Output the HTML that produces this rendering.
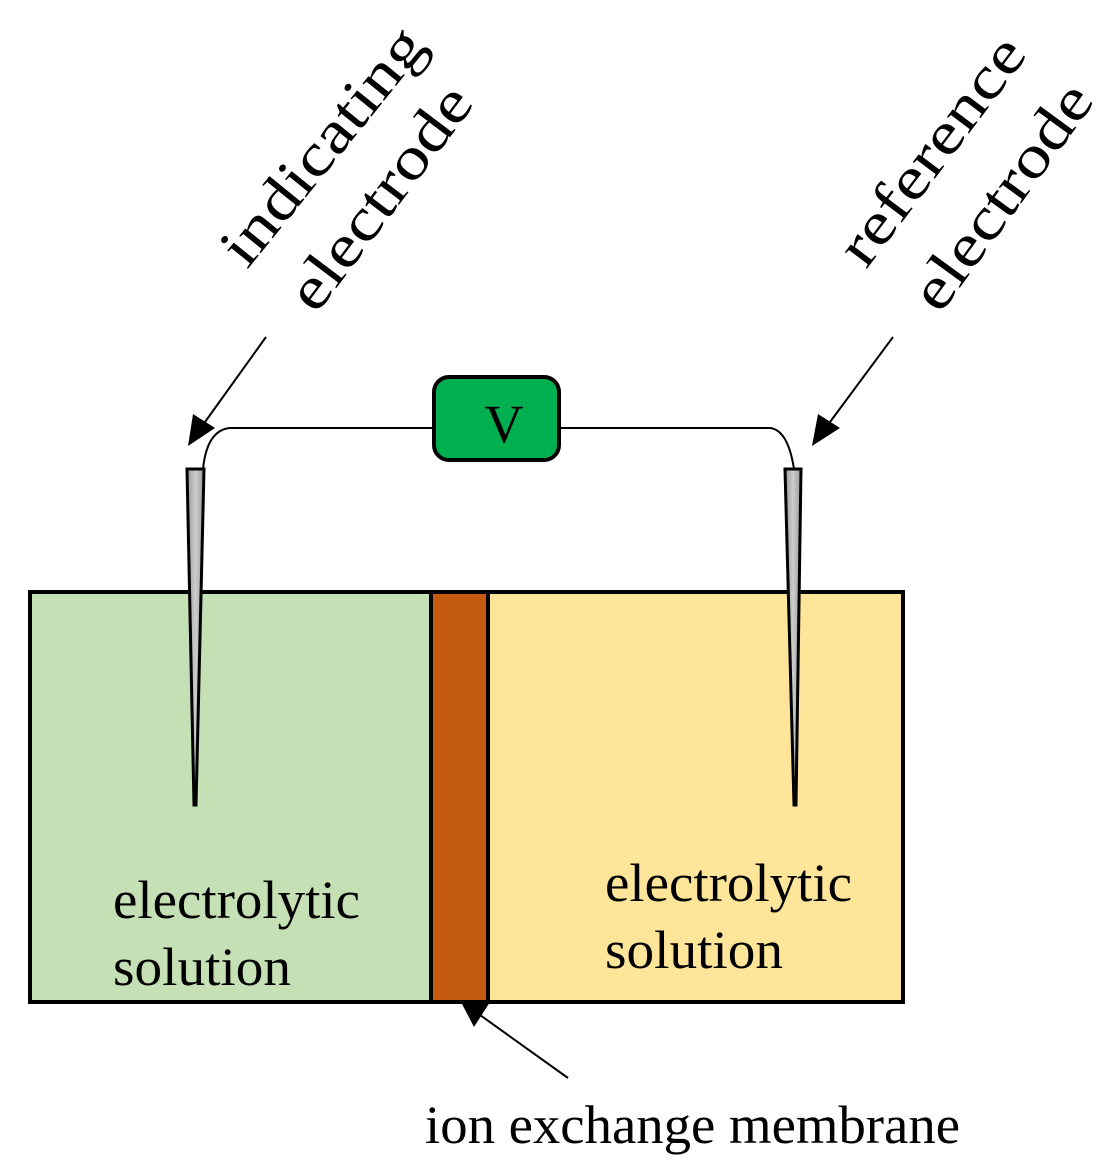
<!DOCTYPE html>
<html><head><meta charset="utf-8"><style>html,body{margin:0;padding:0;background:#fff}svg{display:block}</style></head>
<body>
<svg width="1110" height="1171" viewBox="0 0 1110 1171" xmlns="http://www.w3.org/2000/svg" font-family="'Liberation Serif', serif">
<defs>
<linearGradient id="g" x1="0" x2="1"><stop offset="0" stop-color="#999"/><stop offset="0.5" stop-color="#ccc"/><stop offset="1" stop-color="#999"/></linearGradient>
</defs>
<rect x="32" y="594" width="400" height="406" fill="#c5e0b4"/>
<rect x="488" y="594" width="414" height="406" fill="#fee599"/>
<rect x="30" y="592" width="873" height="410" fill="none" stroke="#000" stroke-width="4"/>
<rect x="431" y="592" width="57" height="410" fill="#c55a11" stroke="#000" stroke-width="4"/>
<path d="M203 469 Q207 430 230 428 L435 428" fill="none" stroke="#000" stroke-width="2"/>
<path d="M558 428 L770 428 Q788 430 794 469" fill="none" stroke="#000" stroke-width="2"/>
<rect x="434" y="377" width="125" height="83" rx="15" fill="#00b050" stroke="#000" stroke-width="4"/>
<text x="504" y="442" font-size="54" text-anchor="middle">V</text>
<polygon points="187,469 204,469 196,805 194,805" fill="url(#g)" stroke="#000" stroke-width="3"/>
<polygon points="785,469 801,469 796,805 794,805" fill="url(#g)" stroke="#000" stroke-width="3"/>
<line x1="266" y1="337" x2="205" y2="422" stroke="#000" stroke-width="2"/>
<polygon points="188,446 193,414 215,428" fill="#000"/>
<line x1="893" y1="337" x2="830" y2="422" stroke="#000" stroke-width="2"/>
<polygon points="812,446 818,414 840,428" fill="#000"/>
<line x1="568" y1="1078" x2="480" y2="1015" stroke="#000" stroke-width="2"/>
<polygon points="461,1002 490,1002 474,1027" fill="#000"/>
<text font-size="60" transform="translate(247,270) rotate(-51)" textLength="288" lengthAdjust="spacingAndGlyphs">indicating</text>
<text font-size="60" transform="translate(316,315) rotate(-53)" textLength="265" lengthAdjust="spacingAndGlyphs">electrode</text>
<text font-size="60" transform="translate(866,270) rotate(-53)" textLength="270" lengthAdjust="spacingAndGlyphs">reference</text>
<text font-size="60" transform="translate(940,315) rotate(-54)" textLength="265" lengthAdjust="spacingAndGlyphs">electrode</text>
<text font-size="54" x="113" y="918" textLength="247" lengthAdjust="spacingAndGlyphs">electrolytic</text>
<text font-size="54" x="113" y="985" textLength="178" lengthAdjust="spacingAndGlyphs">solution</text>
<text font-size="54" x="605" y="901" textLength="247" lengthAdjust="spacingAndGlyphs">electrolytic</text>
<text font-size="54" x="605" y="968" textLength="178" lengthAdjust="spacingAndGlyphs">solution</text>
<text font-size="54" x="425" y="1143" textLength="535" lengthAdjust="spacingAndGlyphs">ion exchange membrane</text>
</svg>
</body></html>
